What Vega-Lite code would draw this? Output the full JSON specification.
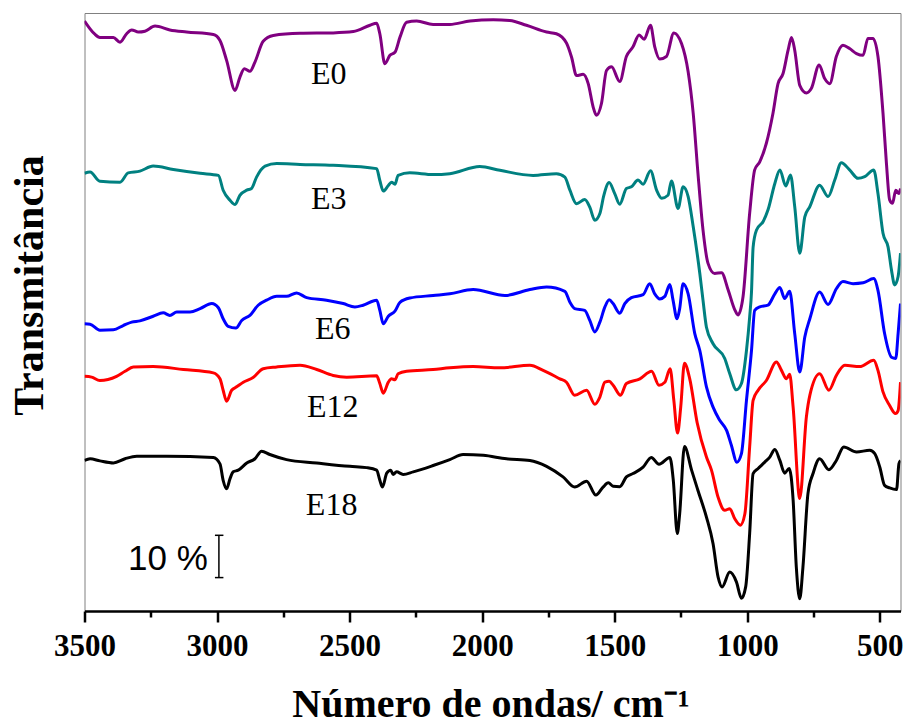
{
  "$schema": "https://vega.github.io/schema/vega-lite/v6.json",
  "width": 816,
  "height": 598,
  "autosize": {"type": "none"},
  "padding": {"left": 84.5, "top": 13, "right": 5.5, "bottom": 115},
  "background": "white",
  "config": {"view": {"stroke": "#808080", "strokeWidth": 1}, "axis": {"grid": false}},
  "resolve": {"axis": {"x": "independent"}},
  "layer": [
    {
      "data": {"values": [
        {"s":"E0","w":3500,"v":139.5},{"s":"E0","w":3463,"v":136.5},{"s":"E0","w":3442,"v":135.6},{"s":"E0","w":3391,"v":135.6},{"s":"E0","w":3366,"v":134.5},{"s":"E0","w":3341,"v":136.5},{"s":"E0","w":3322,"v":137.4},{"s":"E0","w":3297,"v":136.9},{"s":"E0","w":3272,"v":137.1},{"s":"E0","w":3234,"v":138.3},{"s":"E0","w":3178,"v":137.4},{"s":"E0","w":3115,"v":136.9},{"s":"E0","w":3014,"v":136.3},{"s":"E0","w":2989,"v":134.9},{"s":"E0","w":2964,"v":130.2},{"s":"E0","w":2932,"v":123.1},{"s":"E0","w":2914,"v":126.2},{"s":"E0","w":2897,"v":128.2},{"s":"E0","w":2876,"v":127.6},{"s":"E0","w":2857,"v":129.8},{"s":"E0","w":2826,"v":134.7},{"s":"E0","w":2788,"v":136.1},{"s":"E0","w":2687,"v":136.6},{"s":"E0","w":2562,"v":136.7},{"s":"E0","w":2486,"v":137.0},{"s":"E0","w":2423,"v":138.5},{"s":"E0","w":2398,"v":139.0},{"s":"E0","w":2386,"v":136.5},{"s":"E0","w":2367,"v":129.4},{"s":"E0","w":2348,"v":131.4},{"s":"E0","w":2329,"v":132.1},{"s":"E0","w":2310,"v":135.7},{"s":"E0","w":2285,"v":139.2},{"s":"E0","w":2247,"v":139.5},{"s":"E0","w":2185,"v":138.7},{"s":"E0","w":2122,"v":138.7},{"s":"E0","w":2046,"v":139.5},{"s":"E0","w":1958,"v":139.8},{"s":"E0","w":1896,"v":139.6},{"s":"E0","w":1833,"v":138.5},{"s":"E0","w":1757,"v":136.9},{"s":"E0","w":1720,"v":136.5},{"s":"E0","w":1682,"v":134.3},{"s":"E0","w":1663,"v":131.0},{"s":"E0","w":1644,"v":126.6},{"s":"E0","w":1619,"v":126.9},{"s":"E0","w":1600,"v":124.7},{"s":"E0","w":1581,"v":119.1},{"s":"E0","w":1569,"v":117.2},{"s":"E0","w":1550,"v":120.0},{"s":"E0","w":1531,"v":127.8},{"s":"E0","w":1512,"v":128.7},{"s":"E0","w":1481,"v":125.2},{"s":"E0","w":1456,"v":131.1},{"s":"E0","w":1431,"v":133.4},{"s":"E0","w":1408,"v":136.2},{"s":"E0","w":1389,"v":135.2},{"s":"E0","w":1365,"v":138.5},{"s":"E0","w":1349,"v":133.4},{"s":"E0","w":1330,"v":130.5},{"s":"E0","w":1305,"v":131.1},{"s":"E0","w":1277,"v":136.7},{"s":"E0","w":1248,"v":134.2},{"s":"E0","w":1223,"v":127.5},{"s":"E0","w":1204,"v":117.7},{"s":"E0","w":1186,"v":103.5},{"s":"E0","w":1167,"v":90.1},{"s":"E0","w":1148,"v":82.2},{"s":"E0","w":1123,"v":79.8},{"s":"E0","w":1097,"v":80.0},{"s":"E0","w":1072,"v":75.9},{"s":"E0","w":1047,"v":71.2},{"s":"E0","w":1035,"v":70.0},{"s":"E0","w":1016,"v":74.3},{"s":"E0","w":991,"v":94.0},{"s":"E0","w":972,"v":104.3},{"s":"E0","w":953,"v":106.2},{"s":"E0","w":928,"v":110.6},{"s":"E0","w":903,"v":117.7},{"s":"E0","w":884,"v":124.7},{"s":"E0","w":865,"v":127.1},{"s":"E0","w":846,"v":132.6},{"s":"E0","w":833,"v":135.6},{"s":"E0","w":821,"v":132.6},{"s":"E0","w":802,"v":124.3},{"s":"E0","w":777,"v":122.5},{"s":"E0","w":758,"v":123.6},{"s":"E0","w":729,"v":129.1},{"s":"E0","w":708,"v":125.9},{"s":"E0","w":689,"v":124.7},{"s":"E0","w":664,"v":131.1},{"s":"E0","w":639,"v":133.8},{"s":"E0","w":614,"v":133.0},{"s":"E0","w":588,"v":131.8},{"s":"E0","w":563,"v":131.4},{"s":"E0","w":545,"v":135.4},{"s":"E0","w":526,"v":135.4},{"s":"E0","w":507,"v":131.1},{"s":"E0","w":488,"v":117.7},{"s":"E0","w":475,"v":105.8},{"s":"E0","w":463,"v":97.2},{"s":"E0","w":452,"v":96.4},{"s":"E0","w":440,"v":99.5},{"s":"E0","w":428,"v":98.7},{"s":"E0","w":422,"v":99.9},
        {"s":"E3","w":3500,"v":103.5},{"s":"E3","w":3479,"v":103.8},{"s":"E3","w":3442,"v":101.6},{"s":"E3","w":3366,"v":101.4},{"s":"E3","w":3335,"v":103.6},{"s":"E3","w":3291,"v":104.0},{"s":"E3","w":3241,"v":105.2},{"s":"E3","w":3165,"v":104.4},{"s":"E3","w":3064,"v":103.5},{"s":"E3","w":2995,"v":103.0},{"s":"E3","w":2977,"v":99.5},{"s":"E3","w":2951,"v":97.1},{"s":"E3","w":2932,"v":96.1},{"s":"E3","w":2914,"v":98.3},{"s":"E3","w":2888,"v":99.5},{"s":"E3","w":2870,"v":99.9},{"s":"E3","w":2851,"v":102.6},{"s":"E3","w":2819,"v":105.2},{"s":"E3","w":2775,"v":105.8},{"s":"E3","w":2687,"v":105.6},{"s":"E3","w":2562,"v":105.4},{"s":"E3","w":2398,"v":104.6},{"s":"E3","w":2386,"v":101.8},{"s":"E3","w":2373,"v":99.3},{"s":"E3","w":2354,"v":100.6},{"s":"E3","w":2342,"v":101.4},{"s":"E3","w":2329,"v":100.9},{"s":"E3","w":2317,"v":103.0},{"s":"E3","w":2273,"v":103.6},{"s":"E3","w":2185,"v":103.2},{"s":"E3","w":2122,"v":103.4},{"s":"E3","w":2009,"v":105.1},{"s":"E3","w":1933,"v":104.2},{"s":"E3","w":1808,"v":103.0},{"s":"E3","w":1720,"v":103.4},{"s":"E3","w":1688,"v":102.6},{"s":"E3","w":1669,"v":99.5},{"s":"E3","w":1644,"v":96.3},{"s":"E3","w":1613,"v":97.3},{"s":"E3","w":1594,"v":95.5},{"s":"E3","w":1575,"v":92.4},{"s":"E3","w":1556,"v":94.0},{"s":"E3","w":1541,"v":98.3},{"s":"E3","w":1521,"v":101.3},{"s":"E3","w":1500,"v":98.7},{"s":"E3","w":1481,"v":96.2},{"s":"E3","w":1456,"v":99.9},{"s":"E3","w":1437,"v":100.3},{"s":"E3","w":1412,"v":101.9},{"s":"E3","w":1393,"v":100.9},{"s":"E3","w":1365,"v":104.1},{"s":"E3","w":1342,"v":99.5},{"s":"E3","w":1323,"v":97.6},{"s":"E3","w":1299,"v":98.3},{"s":"E3","w":1286,"v":101.7},{"s":"E3","w":1261,"v":95.2},{"s":"E3","w":1242,"v":100.3},{"s":"E3","w":1223,"v":98.0},{"s":"E3","w":1204,"v":90.9},{"s":"E3","w":1179,"v":79.8},{"s":"E3","w":1167,"v":73.5},{"s":"E3","w":1154,"v":67.1},{"s":"E3","w":1129,"v":63.2},{"s":"E3","w":1085,"v":59.7},{"s":"E3","w":1066,"v":56.1},{"s":"E3","w":1041,"v":52.3},{"s":"E3","w":1022,"v":53.8},{"s":"E3","w":1003,"v":61.6},{"s":"E3","w":991,"v":69.5},{"s":"E3","w":984,"v":75.5},{"s":"E3","w":978,"v":86.0},{"s":"E3","w":965,"v":90.1},{"s":"E3","w":940,"v":92.1},{"s":"E3","w":922,"v":94.8},{"s":"E3","w":896,"v":101.1},{"s":"E3","w":877,"v":104.3},{"s":"E3","w":855,"v":100.5},{"s":"E3","w":837,"v":103.1},{"s":"E3","w":821,"v":95.6},{"s":"E3","w":802,"v":84.6},{"s":"E3","w":783,"v":93.2},{"s":"E3","w":764,"v":95.6},{"s":"E3","w":727,"v":100.7},{"s":"E3","w":695,"v":98.0},{"s":"E3","w":670,"v":101.9},{"s":"E3","w":645,"v":106.0},{"s":"E3","w":614,"v":104.3},{"s":"E3","w":582,"v":102.3},{"s":"E3","w":557,"v":102.7},{"s":"E3","w":523,"v":104.3},{"s":"E3","w":507,"v":98.7},{"s":"E3","w":488,"v":89.3},{"s":"E3","w":469,"v":86.1},{"s":"E3","w":456,"v":80.6},{"s":"E3","w":444,"v":77.1},{"s":"E3","w":431,"v":79.1},{"s":"E3","w":422,"v":84.6},
        {"s":"E6","w":3500,"v":67.9},{"s":"E6","w":3479,"v":67.8},{"s":"E6","w":3442,"v":66.4},{"s":"E6","w":3391,"v":66.5},{"s":"E6","w":3354,"v":67.5},{"s":"E6","w":3322,"v":68.3},{"s":"E6","w":3291,"v":68.6},{"s":"E6","w":3241,"v":69.7},{"s":"E6","w":3203,"v":70.5},{"s":"E6","w":3178,"v":69.9},{"s":"E6","w":3152,"v":70.7},{"s":"E6","w":3102,"v":70.7},{"s":"E6","w":3064,"v":71.5},{"s":"E6","w":3020,"v":72.7},{"s":"E6","w":2995,"v":71.7},{"s":"E6","w":2977,"v":69.1},{"s":"E6","w":2958,"v":67.3},{"s":"E6","w":2929,"v":66.9},{"s":"E6","w":2907,"v":68.7},{"s":"E6","w":2876,"v":69.9},{"s":"E6","w":2845,"v":72.3},{"s":"E6","w":2813,"v":73.5},{"s":"E6","w":2775,"v":74.4},{"s":"E6","w":2738,"v":74.4},{"s":"E6","w":2700,"v":75.2},{"s":"E6","w":2662,"v":74.1},{"s":"E6","w":2587,"v":73.5},{"s":"E6","w":2524,"v":72.7},{"s":"E6","w":2480,"v":71.9},{"s":"E6","w":2449,"v":72.3},{"s":"E6","w":2398,"v":73.5},{"s":"E6","w":2386,"v":71.1},{"s":"E6","w":2373,"v":67.9},{"s":"E6","w":2354,"v":69.7},{"s":"E6","w":2329,"v":70.9},{"s":"E6","w":2310,"v":73.0},{"s":"E6","w":2273,"v":74.0},{"s":"E6","w":2185,"v":74.6},{"s":"E6","w":2122,"v":75.0},{"s":"E6","w":2034,"v":76.0},{"s":"E6","w":1914,"v":74.6},{"s":"E6","w":1820,"v":76.0},{"s":"E6","w":1757,"v":76.6},{"s":"E6","w":1688,"v":75.6},{"s":"E6","w":1669,"v":73.0},{"s":"E6","w":1651,"v":71.5},{"s":"E6","w":1613,"v":71.1},{"s":"E6","w":1594,"v":68.7},{"s":"E6","w":1575,"v":66.0},{"s":"E6","w":1556,"v":68.3},{"s":"E6","w":1537,"v":71.9},{"s":"E6","w":1521,"v":73.6},{"s":"E6","w":1506,"v":72.7},{"s":"E6","w":1481,"v":70.4},{"s":"E6","w":1462,"v":72.7},{"s":"E6","w":1437,"v":74.1},{"s":"E6","w":1393,"v":74.8},{"s":"E6","w":1368,"v":77.4},{"s":"E6","w":1349,"v":75.0},{"s":"E6","w":1330,"v":73.8},{"s":"E6","w":1311,"v":74.4},{"s":"E6","w":1292,"v":77.2},{"s":"E6","w":1280,"v":73.5},{"s":"E6","w":1265,"v":69.1},{"s":"E6","w":1255,"v":71.5},{"s":"E6","w":1242,"v":77.4},{"s":"E6","w":1223,"v":75.0},{"s":"E6","w":1198,"v":65.6},{"s":"E6","w":1179,"v":61.6},{"s":"E6","w":1154,"v":53.0},{"s":"E6","w":1129,"v":48.2},{"s":"E6","w":1104,"v":45.1},{"s":"E6","w":1078,"v":42.7},{"s":"E6","w":1060,"v":39.2},{"s":"E6","w":1039,"v":35.2},{"s":"E6","w":1022,"v":37.2},{"s":"E6","w":1003,"v":49.8},{"s":"E6","w":984,"v":61.6},{"s":"E6","w":972,"v":71.1},{"s":"E6","w":953,"v":71.9},{"s":"E6","w":922,"v":72.3},{"s":"E6","w":896,"v":75.0},{"s":"E6","w":877,"v":76.5},{"s":"E6","w":859,"v":73.9},{"s":"E6","w":840,"v":75.6},{"s":"E6","w":821,"v":65.6},{"s":"E6","w":802,"v":56.5},{"s":"E6","w":783,"v":64.8},{"s":"E6","w":764,"v":69.1},{"s":"E6","w":727,"v":75.4},{"s":"E6","w":695,"v":72.5},{"s":"E6","w":664,"v":76.2},{"s":"E6","w":639,"v":77.9},{"s":"E6","w":601,"v":77.4},{"s":"E6","w":563,"v":77.6},{"s":"E6","w":523,"v":78.6},{"s":"E6","w":507,"v":75.8},{"s":"E6","w":482,"v":65.6},{"s":"E6","w":456,"v":60.0},{"s":"E6","w":440,"v":59.7},{"s":"E6","w":431,"v":65.6},{"s":"E6","w":422,"v":72.7},
        {"s":"E12","w":3500,"v":55.5},{"s":"E12","w":3473,"v":55.3},{"s":"E12","w":3442,"v":54.5},{"s":"E12","w":3379,"v":55.5},{"s":"E12","w":3347,"v":56.7},{"s":"E12","w":3316,"v":57.7},{"s":"E12","w":3241,"v":57.8},{"s":"E12","w":3127,"v":57.1},{"s":"E12","w":3014,"v":56.3},{"s":"E12","w":2989,"v":54.9},{"s":"E12","w":2977,"v":52.2},{"s":"E12","w":2964,"v":49.6},{"s":"E12","w":2945,"v":52.2},{"s":"E12","w":2926,"v":53.0},{"s":"E12","w":2901,"v":54.1},{"s":"E12","w":2864,"v":55.2},{"s":"E12","w":2826,"v":57.3},{"s":"E12","w":2775,"v":57.7},{"s":"E12","w":2687,"v":58.1},{"s":"E12","w":2624,"v":57.1},{"s":"E12","w":2562,"v":55.7},{"s":"E12","w":2511,"v":55.3},{"s":"E12","w":2398,"v":55.6},{"s":"E12","w":2386,"v":53.8},{"s":"E12","w":2373,"v":51.5},{"s":"E12","w":2354,"v":54.1},{"s":"E12","w":2342,"v":54.9},{"s":"E12","w":2329,"v":54.7},{"s":"E12","w":2317,"v":56.1},{"s":"E12","w":2285,"v":56.7},{"s":"E12","w":2185,"v":57.1},{"s":"E12","w":2122,"v":57.5},{"s":"E12","w":2034,"v":57.8},{"s":"E12","w":1933,"v":57.5},{"s":"E12","w":1820,"v":58.1},{"s":"E12","w":1770,"v":56.9},{"s":"E12","w":1707,"v":54.9},{"s":"E12","w":1682,"v":54.1},{"s":"E12","w":1651,"v":51.0},{"s":"E12","w":1606,"v":52.2},{"s":"E12","w":1575,"v":48.9},{"s":"E12","w":1556,"v":50.6},{"s":"E12","w":1537,"v":54.1},{"s":"E12","w":1521,"v":54.3},{"s":"E12","w":1506,"v":53.4},{"s":"E12","w":1478,"v":51.0},{"s":"E12","w":1456,"v":53.8},{"s":"E12","w":1405,"v":54.9},{"s":"E12","w":1361,"v":56.7},{"s":"E12","w":1333,"v":53.4},{"s":"E12","w":1311,"v":54.1},{"s":"E12","w":1291,"v":57.3},{"s":"E12","w":1277,"v":49.8},{"s":"E12","w":1263,"v":42.1},{"s":"E12","w":1251,"v":48.2},{"s":"E12","w":1237,"v":58.6},{"s":"E12","w":1217,"v":54.9},{"s":"E12","w":1189,"v":44.5},{"s":"E12","w":1154,"v":36.4},{"s":"E12","w":1135,"v":33.3},{"s":"E12","w":1110,"v":26.9},{"s":"E12","w":1085,"v":23.8},{"s":"E12","w":1066,"v":24.2},{"s":"E12","w":1047,"v":21.8},{"s":"E12","w":1026,"v":20.3},{"s":"E12","w":1009,"v":23.0},{"s":"E12","w":991,"v":38.8},{"s":"E12","w":978,"v":49.8},{"s":"E12","w":959,"v":52.2},{"s":"E12","w":928,"v":54.5},{"s":"E12","w":890,"v":58.9},{"s":"E12","w":871,"v":56.9},{"s":"E12","w":852,"v":54.9},{"s":"E12","w":840,"v":56.0},{"s":"E12","w":827,"v":48.2},{"s":"E12","w":802,"v":26.6},{"s":"E12","w":777,"v":45.9},{"s":"E12","w":764,"v":51.0},{"s":"E12","w":727,"v":56.1},{"s":"E12","w":692,"v":52.2},{"s":"E12","w":664,"v":55.7},{"s":"E12","w":632,"v":58.1},{"s":"E12","w":576,"v":57.8},{"s":"E12","w":523,"v":59.3},{"s":"E12","w":507,"v":56.9},{"s":"E12","w":488,"v":51.8},{"s":"E12","w":463,"v":48.6},{"s":"E12","w":441,"v":46.7},{"s":"E12","w":431,"v":47.4},{"s":"E12","w":422,"v":54.1},
        {"s":"E18","w":3500,"v":35.6},{"s":"E18","w":3479,"v":36.0},{"s":"E18","w":3442,"v":35.5},{"s":"E18","w":3391,"v":35.0},{"s":"E18","w":3347,"v":36.0},{"s":"E18","w":3303,"v":36.6},{"s":"E18","w":3190,"v":36.6},{"s":"E18","w":3014,"v":36.3},{"s":"E18","w":2989,"v":34.8},{"s":"E18","w":2977,"v":30.9},{"s":"E18","w":2964,"v":28.9},{"s":"E18","w":2951,"v":31.3},{"s":"E18","w":2939,"v":32.9},{"s":"E18","w":2920,"v":33.3},{"s":"E18","w":2888,"v":35.0},{"s":"E18","w":2857,"v":36.0},{"s":"E18","w":2832,"v":37.8},{"s":"E18","w":2801,"v":37.0},{"s":"E18","w":2738,"v":35.8},{"s":"E18","w":2624,"v":35.0},{"s":"E18","w":2499,"v":34.2},{"s":"E18","w":2436,"v":33.9},{"s":"E18","w":2398,"v":33.3},{"s":"E18","w":2386,"v":30.9},{"s":"E18","w":2376,"v":29.3},{"s":"E18","w":2360,"v":32.6},{"s":"E18","w":2345,"v":33.3},{"s":"E18","w":2336,"v":32.3},{"s":"E18","w":2323,"v":32.9},{"s":"E18","w":2298,"v":32.3},{"s":"E18","w":2260,"v":32.9},{"s":"E18","w":2185,"v":34.4},{"s":"E18","w":2122,"v":35.8},{"s":"E18","w":2072,"v":37.0},{"s":"E18","w":1996,"v":36.8},{"s":"E18","w":1908,"v":36.0},{"s":"E18","w":1820,"v":35.6},{"s":"E18","w":1757,"v":34.2},{"s":"E18","w":1695,"v":31.7},{"s":"E18","w":1651,"v":29.3},{"s":"E18","w":1606,"v":30.7},{"s":"E18","w":1571,"v":27.4},{"s":"E18","w":1544,"v":29.3},{"s":"E18","w":1524,"v":30.3},{"s":"E18","w":1506,"v":29.5},{"s":"E18","w":1481,"v":29.4},{"s":"E18","w":1456,"v":31.7},{"s":"E18","w":1431,"v":32.5},{"s":"E18","w":1393,"v":34.0},{"s":"E18","w":1362,"v":36.3},{"s":"E18","w":1333,"v":34.7},{"s":"E18","w":1292,"v":36.3},{"s":"E18","w":1279,"v":30.9},{"s":"E18","w":1264,"v":18.3},{"s":"E18","w":1255,"v":23.0},{"s":"E18","w":1237,"v":38.9},{"s":"E18","w":1210,"v":33.3},{"s":"E18","w":1186,"v":28.5},{"s":"E18","w":1154,"v":22.2},{"s":"E18","w":1129,"v":15.9},{"s":"E18","w":1110,"v":8.0},{"s":"E18","w":1095,"v":5.7},{"s":"E18","w":1066,"v":9.2},{"s":"E18","w":1041,"v":6.9},{"s":"E18","w":1022,"v":3.0},{"s":"E18","w":1006,"v":5.7},{"s":"E18","w":991,"v":18.3},{"s":"E18","w":978,"v":32.5},{"s":"E18","w":959,"v":33.7},{"s":"E18","w":934,"v":35.2},{"s":"E18","w":915,"v":36.4},{"s":"E18","w":896,"v":38.2},{"s":"E18","w":877,"v":35.6},{"s":"E18","w":859,"v":32.6},{"s":"E18","w":842,"v":33.7},{"s":"E18","w":827,"v":26.2},{"s":"E18","w":815,"v":10.4},{"s":"E18","w":802,"v":2.9},{"s":"E18","w":790,"v":10.4},{"s":"E18","w":771,"v":27.8},{"s":"E18","w":752,"v":32.5},{"s":"E18","w":727,"v":36.0},{"s":"E18","w":692,"v":33.4},{"s":"E18","w":664,"v":35.6},{"s":"E18","w":636,"v":38.8},{"s":"E18","w":588,"v":37.6},{"s":"E18","w":538,"v":38.0},{"s":"E18","w":519,"v":37.2},{"s":"E18","w":500,"v":34.0},{"s":"E18","w":482,"v":29.7},{"s":"E18","w":463,"v":29.1},{"s":"E18","w":437,"v":28.7},{"s":"E18","w":428,"v":34.8},{"s":"E18","w":422,"v":35.6}
      ]},
      "mark": {"type": "line", "strokeWidth": 3, "clip": true, "interpolate": "monotone", "strokeJoin": "round"},
      "encoding": {
        "x": {"field": "w", "type": "quantitative",
          "scale": {"domain": [422, 3500], "reverse": true, "nice": false, "zero": false},
          "axis": {"orient": "bottom", "values": [3500, 3000, 2500, 2000, 1500, 1000, 500], "format": "d",
            "title": "Número de ondas/ cm⁻¹", "titleFont": "Liberation Serif", "titleFontSize": 40, "titleFontWeight": "bold", "titleColor": "#000000",
            "titleX": 406, "titleY": 105, "titleBaseline": "alphabetic", "titleAlign": "center", "titleAngle": 0,
            "labelFont": "Liberation Serif", "labelFontSize": 31, "labelFontWeight": "bold", "labelColor": "#000000", "labelPadding": 9,
            "labelFlush": false, "labelOverlap": false,
            "tickSize": 11, "tickWidth": 2.5, "tickColor": "#000000", "domainColor": "#000000", "domainWidth": 2.5, "grid": false}},
        "y": {"field": "v", "type": "quantitative",
          "scale": {"domain": [0, 141.4], "nice": false, "zero": false},
          "axis": {"domain": false, "ticks": false, "labels": false, "grid": false,
            "title": "Transmitância", "titleFont": "Liberation Serif", "titleFontSize": 42, "titleFontWeight": "bold", "titleColor": "#000000",
            "titleX": -42.5, "titleY": 272, "titleAngle": 270, "titleBaseline": "alphabetic", "titleAlign": "center"}},
        "color": {"field": "s", "type": "nominal",
          "scale": {"domain": ["E0", "E3", "E6", "E12", "E18"], "range": ["#800080", "#008080", "#0000ff", "#ff0000", "#000000"]},
          "legend": null}
      }
    },
    {
      "data": {"values": [
        {"w": 2993, "w2": 2993, "v": 7.9, "v2": 17.9},
        {"w": 3008, "w2": 2976, "v": 7.9, "v2": 7.9},
        {"w": 3008, "w2": 2976, "v": 17.9, "v2": 17.9}
      ]},
      "mark": {"type": "rule", "color": "#000000", "strokeWidth": 1.5},
      "encoding": {
        "x": {"field": "w", "type": "quantitative",
          "axis": {"orient": "bottom", "values": [3250, 2750, 2250, 1750, 1250, 750], "labels": false, "domain": false, "title": null,
            "tickSize": 6, "tickWidth": 2.5, "tickColor": "#000000", "grid": false}},
        "x2": {"field": "w2"},
        "y": {"field": "v", "type": "quantitative"},
        "y2": {"field": "v2"}
      }
    },
    {
      "data": {"values": [
        {"t": "E0", "w": 2646, "v": 124.7},
        {"t": "E3", "w": 2646, "v": 95.0},
        {"t": "E6", "w": 2631, "v": 64.2},
        {"t": "E12", "w": 2661, "v": 45.8},
        {"t": "E18", "w": 2665, "v": 22.6}
      ]},
      "mark": {"type": "text", "font": "Liberation Serif", "fontSize": 32, "color": "#000000", "align": "left", "baseline": "alphabetic"},
      "encoding": {
        "x": {"field": "w", "type": "quantitative", "axis": null},
        "y": {"field": "v", "type": "quantitative"},
        "text": {"field": "t"}
      }
    },
    {
      "data": {"values": [{"t": "10 %", "w": 3336, "v": 9.6}]},
      "mark": {"type": "text", "font": "Liberation Sans", "fontSize": 35, "color": "#000000", "align": "left", "baseline": "alphabetic"},
      "encoding": {
        "x": {"field": "w", "type": "quantitative", "axis": null},
        "y": {"field": "v", "type": "quantitative"},
        "text": {"field": "t"}
      }
    }
  ]
}
